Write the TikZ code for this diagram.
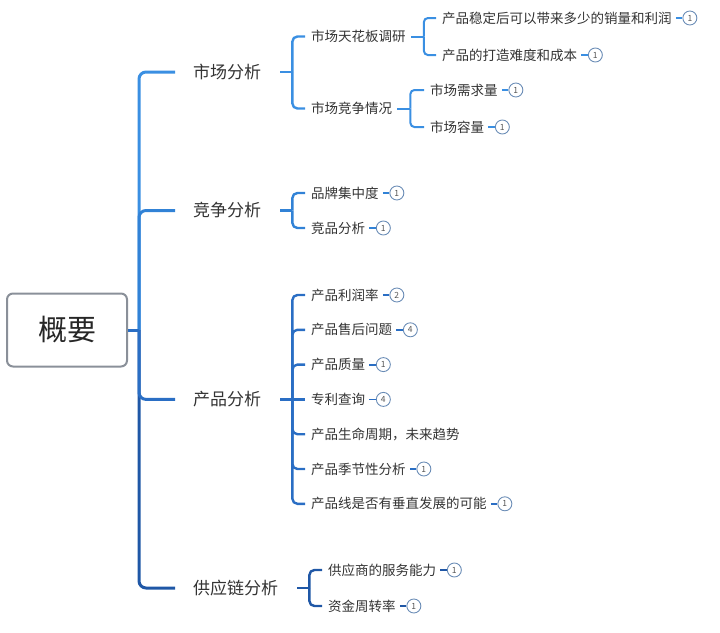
\documentclass[tikz,border=0pt]{standalone}
\usepackage{fontspec}
\setmainfont{Noto Sans CJK SC}
\usetikzlibrary{positioning,calc}
\definecolor{cM}{HTML}{3A8FE2}
\definecolor{cC}{HTML}{3182D6}
\definecolor{cP}{HTML}{2A6EC4}
\definecolor{cS}{HTML}{1F57A6}
\definecolor{txt}{HTML}{333333}
\definecolor{rootc}{HTML}{8A9099}
\definecolor{badgec}{HTML}{6A8CB6}
\definecolor{numc}{HTML}{555555}
\tikzset{
  lvone/.style={anchor=west,inner sep=0pt,font=\fontsize{17}{17}\selectfont,text=txt},
  lvtwo/.style={anchor=west,inner sep=0pt,font=\fontsize{13.5}{13.5}\selectfont,text=txt},
  rootbox/.style={draw=rootc,line width=2pt,rounded corners=6pt,minimum width=120pt,minimum height=73pt,font=\fontsize{29}{29}\selectfont,text=black!85},
  trunk/.style={line width=3pt,rounded corners=7pt},
  brk/.style={line width=2.4pt,rounded corners=5pt},
  brkthree/.style={line width=2pt,rounded corners=4pt},
  badge/.style={circle,draw=badgec,line width=0.9pt,minimum size=14pt,inner sep=0pt,font=\fontsize{8.5}{8.5}\selectfont,text=numc},
  bstub/.style={line width=1.8pt},
}
\newcommand\mybadge[3]{%
  \node[badge,right=10.5pt of #1] (#1b) {#2};
  \draw[bstub,#3] ([xshift=4pt]#1.east) -- (#1b.west);
}
\begin{document}
\begin{tikzpicture}[x=1pt,y=-1pt]
\useasboundingbox (0,0) rectangle (720,632);

% root
\node[rootbox] (root) at (67,330) {概要};
\coordinate (T) at (139,330);

% level 1
\node[lvone] (m) at (193,72) {市场分析};
\node[lvone] (c) at (193,210.5) {竞争分析};
\node[lvone] (p) at (193,399.4) {产品分析};
\node[lvone] (s) at (193,588) {供应链分析};

% trunk
\draw[trunk,cM] (T) |- ([xshift=-18pt]m.west);
\draw[trunk,cC] (T) |- ([xshift=-18pt]c.west);
\draw[trunk,cS] (T) |- ([xshift=-18pt]s.west);
\draw[trunk,cP] (T) |- ([xshift=-18pt]p.west);
\draw[trunk,cP] (root.east) -- (T);

% ---- market
\node[lvtwo] (m1) at (311,36.5) {市场天花板调研};
\node[lvtwo] (m2) at (311,108.5) {市场竞争情况};
\coordinate (mB) at ([xshift=31pt]m.east);
\draw[brk,cM] ([xshift=19pt]m.east) -- (mB);
\draw[brk,cM] (mB) |- ([xshift=-6pt]m1.west);
\draw[brk,cM] (mB) |- ([xshift=-6pt]m2.west);

\node[lvtwo] (m11) at (442,18) {产品稳定后可以带来多少的销量和利润};
\node[lvtwo] (m12) at (442,55) {产品的打造难度和成本};
\coordinate (m1B) at ([xshift=18pt]m1.east);
\draw[brkthree,cM] ([xshift=5pt]m1.east) -- (m1B);
\draw[brkthree,cM] (m1B) |- ([xshift=-6pt]m11.west);
\draw[brkthree,cM] (m1B) |- ([xshift=-6pt]m12.west);
\mybadge{m11}{1}{cM}
\mybadge{m12}{1}{cM}

\node[lvtwo] (m21) at (430,90) {市场需求量};
\node[lvtwo] (m22) at (430,127) {市场容量};
\coordinate (m2B) at ([xshift=18pt]m2.east);
\draw[brkthree,cM] ([xshift=5pt]m2.east) -- (m2B);
\draw[brkthree,cM] (m2B) |- ([xshift=-6pt]m21.west);
\draw[brkthree,cM] (m2B) |- ([xshift=-6pt]m22.west);
\mybadge{m21}{1}{cM}
\mybadge{m22}{1}{cM}

% ---- competition
\node[lvtwo] (c1) at (311,193) {品牌集中度};
\node[lvtwo] (c2) at (311,228) {竞品分析};
\coordinate (cB) at ([xshift=31pt]c.east);
\draw[brk,cC] ([xshift=19pt]c.east) -- (cB);
\draw[brk,cC] (cB) |- ([xshift=-6pt]c1.west);
\draw[brk,cC] (cB) |- ([xshift=-6pt]c2.west);
\mybadge{c1}{1}{cC}
\mybadge{c2}{1}{cC}

% ---- product
\node[lvtwo] (p1) at (311,295.0) {产品利润率};
\node[lvtwo] (p2) at (311,329.8) {产品售后问题};
\node[lvtwo] (p3) at (311,364.6) {产品质量};
\node[lvtwo] (p4) at (311,399.4) {专利查询};
\node[lvtwo] (p5) at (311,434.2) {产品生命周期，未来趋势};
\node[lvtwo] (p6) at (311,469.0) {产品季节性分析};
\node[lvtwo] (p7) at (311,503.8) {产品线是否有垂直发展的可能};
\coordinate (pB) at ([xshift=31pt]p.east);
\draw[brk,cP] ([xshift=19pt]p.east) -- (pB);
\foreach \k in {1,2,3,5,6,7}{
  \draw[brk,cP] (pB) |- ([xshift=-6pt]p\k.west);
}
\draw[brk,cP] (pB) -- ([xshift=-6pt]p4.west);
\mybadge{p1}{2}{cP}
\mybadge{p2}{4}{cP}
\mybadge{p3}{1}{cP}
\mybadge{p4}{4}{cP}
\mybadge{p6}{1}{cP}
\mybadge{p7}{1}{cP}

% ---- supply chain
\node[lvtwo] (s1) at (328,570) {供应商的服务能力};
\node[lvtwo] (s2) at (328,606) {资金周转率};
\coordinate (sB) at ([xshift=31pt]s.east);
\draw[brk,cS] ([xshift=19pt]s.east) -- (sB);
\draw[brk,cS] (sB) |- ([xshift=-6pt]s1.west);
\draw[brk,cS] (sB) |- ([xshift=-6pt]s2.west);
\mybadge{s1}{1}{cS}
\mybadge{s2}{1}{cS}
\end{tikzpicture}
\end{document}
